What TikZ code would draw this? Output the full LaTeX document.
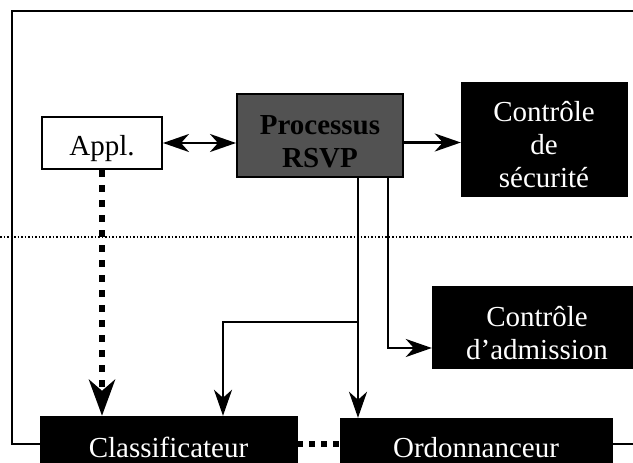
\documentclass[tikz,border=0pt]{standalone}
\usepackage{fontspec}
\setmainfont{Liberation Serif}
\usetikzlibrary{arrows.meta,calc}
\begin{document}
\begin{tikzpicture}[x=1pt,y=-1pt,
  txt/.style={font=\fontsize{29}{33}\selectfont, align=center, inner sep=0pt},
  lowtxt/.style={txt, yshift=-6pt},
  blk/.style={fill=black, draw=black, inner sep=0pt},
  wtxt/.style={lowtxt, text=white},
  ln/.style={line width=2.4pt},
  tip/.tip={Stealth[length=26pt,width=18pt,inset=8pt]},
  arr/.style={ln, -tip},
  bigdot/.style={line width=6.5pt, dash pattern=on 6.5pt off 8.5pt},
]
\useasboundingbox (0,0) rectangle (633,463);
\clip (0,0) rectangle (633,463);
\fill[white] (0,0) rectangle (633,463);

% thin dotted separator
\draw[line width=1.2pt, dash pattern=on 1.5pt off 2pt] (0,237) -- (633,237);

% nodes
\node[draw, line width=2pt, fill=white, inner sep=0pt, minimum width=120pt, minimum height=52pt,
  label={[lowtxt]center:Appl.}] (appl) at (102,143) {};
\node[draw, line width=2pt, fill=black!68, inner sep=0pt, minimum width=166pt, minimum height=83pt,
  label={[lowtxt, font=\fontsize{29}{33}\selectfont\bfseries]center:{Processus\\RSVP}}] (proc) at (320,135.5) {};
\node[blk, minimum width=166pt, minimum height=114pt,
  label={[wtxt]center:{Contrôle\\de\\sécurité}}] (secu) at (544,139) {};
\node[blk, minimum width=210pt, minimum height=82pt,
  label={[wtxt]center:{Contrôle\\d'admission}}] (adm) at (537,327) {};
\node[blk, minimum width=257pt, minimum height=56pt,
  label={[wtxt, yshift=3pt]center:Classificateur}] (class) at (168.5,444) {};
\node[blk, minimum width=272pt, minimum height=52pt,
  label={[wtxt, yshift=2pt]center:Ordonnanceur}] (ord) at (476,444) {};

% frame
\coordinate (fr1) at (633,11);
\coordinate (fr2) at (12,11);
\draw[ln] (fr1) -- (fr2) -- (fr2 |- class.west) -- (class.west);
\coordinate (fr3) at (633,444);
\draw[ln] (ord.east) -- (fr3);

% connectors
\draw[ln, tip-tip] (appl.east) -- (appl.east -| proc.west);
\draw[arr] ([yshift=-7pt]proc.east) -- ([yshift=-7pt]proc.east -| secu.west);

\coordinate (b1) at (358,322);
\coordinate (b3) at (223,322);
\coordinate (b2) at (388,348);
\draw[ln] (proc.south -| b1) -- (b1);
\draw[arr] (b1) -- (b1 |- ord.north);
\draw[arr] (b1) -- (b3) -- (b3 |- class.north);
\draw[arr] (proc.south -| b2) -- (b2) -- (b2 -| adm.west);

\draw[bigdot, -{Stealth[length=36pt,width=26pt,inset=11pt]}] (appl.south) -- (appl.south |- class.north);
\draw[line width=6pt, dash pattern=on 6pt off 6pt] (class.east) -- (ord.west);
\end{tikzpicture}
\end{document}
